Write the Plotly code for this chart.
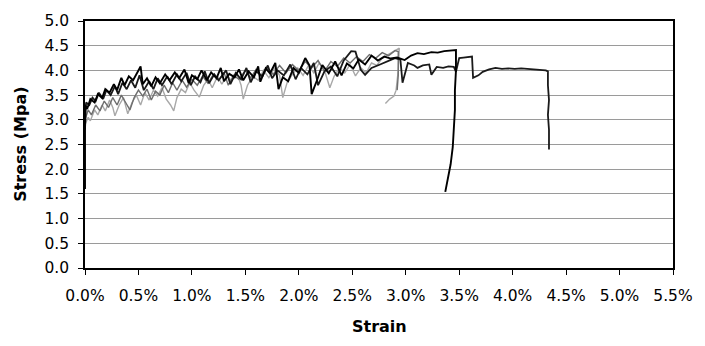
import plotly.graph_objects as go

# Strain (%) , Stress (MPa)
A_points = [(0.00,1.60),(0.00,3.30),(0.02,3.22),(0.05,3.42),(0.09,3.35),(0.12,3.52),(0.16,3.44),(0.19,3.62),
 (0.23,3.55),(0.27,3.72),(0.30,3.60),(0.34,3.85),(0.37,3.70),(0.41,3.88),(0.45,3.80),(0.49,3.95),(0.52,4.08),
 (0.54,3.72),(0.58,3.84),(0.62,3.68),(0.66,3.86),(0.70,3.74),(0.75,3.92),(0.79,3.80),(0.84,3.96),(0.88,3.84),
 (0.93,4.02),(0.97,3.74),(1.00,3.90),(1.05,3.82),(1.09,4.00),(1.14,3.80),(1.18,3.96),(1.23,3.84),(1.27,4.05),
 (1.30,3.78),(1.35,3.93),(1.40,3.86),(1.44,4.02),(1.48,3.80),(1.53,3.98),(1.58,3.86),(1.62,4.08),(1.64,3.77),
 (1.69,4.04),(1.73,3.94),(1.78,4.15),(1.81,3.62),(1.85,3.86),(1.90,3.78),(1.95,4.05),(2.00,3.95),(2.06,4.25),
 (2.10,4.10),(2.12,3.52),(2.17,3.80),(2.22,4.11),(2.28,3.94),(2.34,4.18),(2.40,3.90),(2.45,4.14),(2.51,4.04),
 (2.56,4.22),(2.62,4.12),(2.68,4.30),(2.74,4.20),(2.80,4.28),(2.86,4.24),(2.92,4.26),(2.99,4.21),(3.05,4.30),
 (3.11,4.35),(3.17,4.33),(3.24,4.37),(3.30,4.36),(3.36,4.39),(3.42,4.40),(3.47,4.41),(3.47,4.00),(3.46,3.60),
 (3.46,3.20),(3.45,2.80),(3.44,2.45),(3.42,2.10),(3.40,1.85),(3.38,1.65),(3.37,1.54)]

B_points = [(0.00,2.80),(0.01,3.35),(0.04,3.30),(0.07,3.45),(0.10,3.38),(0.13,3.55),(0.17,3.42),(0.20,3.60),
 (0.24,3.50),(0.28,3.68),(0.31,3.52),(0.35,3.75),(0.39,3.62),(0.43,3.80),(0.47,3.65),(0.51,3.90),(0.55,3.60),
 (0.60,3.78),(0.64,3.62),(0.68,3.84),(0.72,3.70),(0.77,3.88),(0.81,3.72),(0.86,3.92),(0.90,3.78),(0.95,3.95),
 (0.99,3.70),(1.03,3.88),(1.08,3.76),(1.12,3.98),(1.16,3.74),(1.21,3.92),(1.25,3.80),(1.32,4.00),(1.36,3.72),
 (1.41,3.95),(1.46,3.82),(1.51,4.05),(1.55,3.76),(1.60,3.98),(1.66,3.88),(1.71,4.10),(1.75,3.84),(1.80,4.00),
 (1.86,3.90),(1.92,4.12),(1.97,3.82),(2.02,4.05),(2.08,3.92),(2.14,4.15),(2.18,3.70),(2.24,3.98),(2.30,4.08),
 (2.36,3.88),(2.42,4.20),(2.49,4.39),(2.53,4.38),(2.58,4.01),(2.62,3.91),(2.68,4.05),(2.76,4.12),(2.83,4.19),
 (2.90,4.25),(2.95,4.22),(2.97,3.75),(3.02,4.15),(3.08,4.10),(3.11,4.05),(3.16,4.10),(3.22,4.12),(3.24,3.91),
 (3.29,4.07),(3.35,4.05),(3.40,4.08),(3.45,4.07),(3.47,3.97),(3.50,4.25),(3.54,4.26),(3.58,4.27),(3.62,4.28),
 (3.63,3.85),(3.68,3.90),(3.72,3.97),(3.78,4.02),(3.84,4.05),(3.90,4.03),(3.96,4.04),(4.02,4.03),(4.08,4.04),
 (4.14,4.03),(4.20,4.02),(4.26,4.01),(4.31,4.00),(4.33,3.98),(4.33,3.70),(4.34,3.40),(4.33,3.10),(4.34,2.80),
 (4.34,2.40)]

C_points = [(0.00,2.90),(0.03,3.05),(0.05,2.98),(0.09,3.20),(0.12,3.10),(0.16,3.30),(0.19,3.18),(0.23,3.40),
 (0.26,3.25),(0.28,3.08),(0.32,3.30),(0.36,3.45),(0.40,3.12),(0.44,3.35),(0.48,3.50),(0.52,3.30),(0.56,3.55),
 (0.60,3.40),(0.64,3.60),(0.68,3.48),(0.72,3.65),(0.76,3.42),(0.80,3.30),(0.83,3.18),(0.86,3.45),(0.90,3.62),
 (0.94,3.55),(0.98,3.75),(1.02,3.60),(1.07,3.46),(1.11,3.70),(1.15,3.82),(1.19,3.65),(1.24,3.88),(1.28,3.72),
 (1.33,3.90),(1.37,3.78),(1.42,3.95),(1.46,3.70),(1.48,3.42),(1.52,3.70),(1.57,3.88),(1.62,3.80),(1.67,4.00),
 (1.72,3.85),(1.77,4.05),(1.82,3.90),(1.85,3.45),(1.89,3.75),(1.94,3.92),(1.99,4.05),(2.04,3.90),(2.09,4.10),
 (2.14,3.95),(2.19,4.15),(2.24,4.00),(2.29,3.65),(2.33,3.88),(2.38,4.05),(2.43,3.95),(2.48,4.12),(2.53,3.89),
 (2.58,4.05),(2.63,3.95),(2.68,4.15),(2.73,4.10),(2.78,4.25),(2.83,4.31),(2.88,4.38),(2.91,4.41),(2.94,4.45),
 (2.93,4.00),(2.91,3.60),(2.89,3.48),(2.85,3.42),(2.81,3.33)]

D_points = [(0.00,3.00),(0.03,3.20),(0.06,3.10),(0.10,3.30),(0.14,3.18),(0.18,3.38),(0.22,3.25),(0.26,3.45),
 (0.30,3.30),(0.34,3.50),(0.38,3.35),(0.42,3.20),(0.46,3.45),(0.50,3.60),(0.54,3.48),(0.58,3.62),(0.62,3.40),
 (0.66,3.58),(0.70,3.50),(0.74,3.70),(0.78,3.55),(0.82,3.75),(0.86,3.60),(0.91,3.80),(0.95,3.66),(1.00,3.82),
 (1.05,3.70),(1.10,3.88),(1.15,3.74),(1.20,3.92),(1.25,3.80),(1.30,3.96),(1.34,3.70),(1.39,3.90),(1.44,3.82),
 (1.50,4.00),(1.55,3.85),(1.60,4.02),(1.65,3.88),(1.70,4.06),(1.76,3.92),(1.82,4.10),(1.88,3.95),(1.94,4.12),
 (2.00,4.00),(2.06,4.18),(2.12,4.05),(2.18,4.20),(2.24,3.98),(2.30,4.18),(2.36,4.08),(2.42,4.25),(2.48,4.15),
 (2.54,4.28),(2.60,4.18),(2.66,4.32),(2.72,4.25),(2.78,4.36),(2.84,4.30),(2.90,4.40),(2.93,4.38),(2.93,3.90),
 (2.92,3.60)]

x_ticks = [0.0, 0.005, 0.01, 0.015, 0.02, 0.025, 0.03, 0.035, 0.04, 0.045, 0.05, 0.055]
y_ticks = [0.0, 0.5, 1.0, 1.5, 2.0, 2.5, 3.0, 3.5, 4.0, 4.5, 5.0]

series = [
    ("Specimen 3", C_points, "#a8a8a8", 1.4),
    ("Specimen 4", D_points, "#6e6e6e", 1.4),
    ("Specimen 2", B_points, "#1a1a1a", 1.8),
    ("Specimen 1", A_points, "#000000", 1.9),
]

fig = go.Figure()
for name, pts, col, w in series:
    fig.add_trace(go.Scatter(
        x=[p[0] / 100 for p in pts], y=[p[1] for p in pts],
        mode="lines", name=name, line=dict(color=col, width=w),
        showlegend=False))

font = "DejaVu Sans, Verdana, sans-serif"
fig.update_layout(
    width=705, height=346,
    margin=dict(l=85, r=27, t=15, b=78),
    paper_bgcolor="white", plot_bgcolor="white",
    font=dict(family=font, size=15.5, color="black"),
    xaxis=dict(range=[0, 0.055], tickvals=x_ticks, tickformat=".1%",
               showgrid=False, zeroline=False, showline=True, linecolor="black",
               linewidth=1.5, mirror=True, ticks="outside", ticklen=5, tickcolor="black",
               ticklabelstandoff=8, tickfont=dict(size=15.5)),
    yaxis=dict(range=[0, 5], tickvals=y_ticks, tickformat=".1f",
               showgrid=True, gridcolor="#9a9a9a", gridwidth=1, zeroline=False,
               showline=True, linecolor="black", linewidth=1.5, mirror=True,
               ticks="outside", ticklen=5, tickcolor="black",
               ticklabelstandoff=6, tickfont=dict(size=15.5)),
    annotations=[
        dict(text="<b>Strain</b>", xref="paper", yref="paper", x=0.5, y=-0.235,
             xanchor="center", yanchor="middle", showarrow=False, font=dict(size=16)),
        dict(text="<b>Stress (Mpa)</b>", xref="paper", yref="paper", x=-0.11, y=0.5,
             xanchor="center", yanchor="middle", showarrow=False, textangle=-90,
             font=dict(size=16)),
    ],
)

fig.write_html("out.html")
